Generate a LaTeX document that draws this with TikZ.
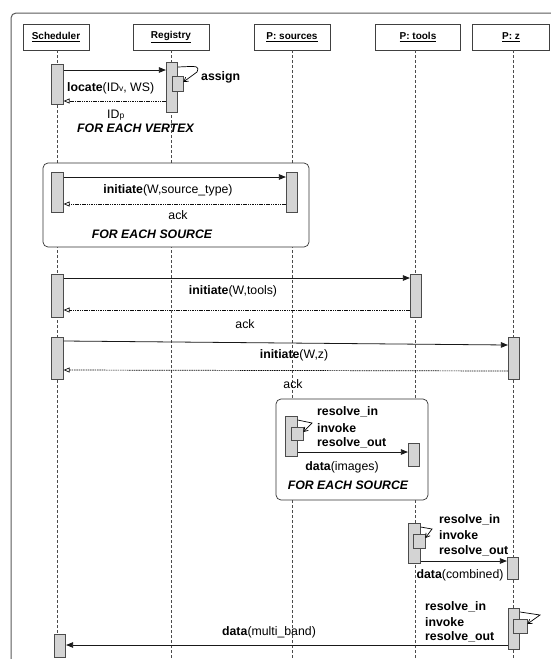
\documentclass[tikz,border=0pt]{standalone}
\usepackage{fontspec}
\setmainfont{Liberation Sans}
\usetikzlibrary{arrows.meta}
\newcommand{\bodyfont}{\fontsize{12.3}{14}\selectfont}
\newcommand{\smallsub}[1]{{\fontsize{8.5}{9}\selectfont #1}}
\begin{document}
\begin{tikzpicture}[x=1pt,y=-1pt,
  hdr/.style={draw=black!75,line width=0.7pt,fill=white,minimum width=#1,minimum height=26pt,inner sep=0pt,font=\fontsize{10}{12}\selectfont\bfseries},
  lifeline/.style={draw=black!70,dashed,dash pattern=on 3pt off 2pt,line width=0.6pt},
  act/.style={draw=black!70,line width=0.7pt,fill=black!17,inner sep=0pt,minimum width=11.5pt,minimum height=#1},
  loopbox/.style={draw=black!80,line width=0.7pt,rounded corners=5pt,fill=white},
  msg/.style={draw=black!90,line width=0.8pt,-{Triangle[length=7pt,width=5.5pt]}},
  ret/.style={draw=black!95,line width=0.7pt,dash pattern=on 1.5pt off 0.8pt,-{Triangle[open,length=6pt,width=5pt]}},
  selfc/.style={draw=black,line width=0.7pt,-{Straight Barb[length=4pt,width=5pt]}},
  lbl/.style={font=\bodyfont,inner sep=0pt},
  lblw/.style={font=\bodyfont,inner sep=0pt,anchor=west},
  loopt/.style={font=\bodyfont\bfseries\itshape,inner sep=0pt}]
\useasboundingbox (0,0) rectangle (551,659);
% frame
\draw[draw=black!65,line width=1pt,rounded corners=5pt] (11,659) -- (11,13) -- (551,13);
% headers
\node[hdr=66pt] (hS) at (56,37) {\underline{Scheduler}};
\node[hdr=76pt] (hR) at (171,37) {\underline{Registry}};
\node[hdr=76pt] (hP) at (292,37) {\underline{P: sources}};
\node[hdr=85pt] (hT) at (418,37) {\underline{P: tools}};
\node[hdr=77pt] (hZ) at (511,37) {\underline{P: z}};
\coordinate (eS) at (57,659);
\coordinate (eR) at (171,659);
\coordinate (eP) at (292,659);
\coordinate (eT) at (415,659);
\coordinate (eZ) at (513,659);
\draw[lifeline] (hS.south -| eS) -- (eS);
\draw[lifeline] (hR.south) -- (eR);
\draw[lifeline] (hP.south) -- (eP);
\draw[lifeline] (hT.south -| eT) -- (eT);
\draw[lifeline] (hZ.south -| eZ) -- (eZ);
% loop boxes
\node[loopbox,minimum width=266pt,minimum height=84pt,inner sep=0pt] (L1) at (176,205) {};
\node[loopbox,minimum width=152pt,minimum height=101pt,inner sep=0pt] (L2) at (352,449.5) {};
% ---- block 1: locate
\node[act=40pt] (S1) at (57.5,84) {};
\node[act=50pt] (R1) at (172,87) {};
\node[act=15pt,minimum width=11pt] (R1n) at (177.5,83.5) {};
\draw[msg] (S1.east |- 0,70) -- (R1.west |- 0,70);
\draw[ret] (R1.west |- 0,101) -- (S1.east |- 0,101);
\coordinate (c1) at (197,72);
\draw[selfc] (R1.east |- 0,67) .. controls (199,66) .. (c1) -- (R1n.east |- 0,82);
\node[lblw,font=\bodyfont\bfseries] (tA) at (201,77) {assign};
\node[lblw] (tL) at (67,88) {\textbf{locate}(ID\smallsub{v}, WS)};
\node[lblw] (tI) at (107,115) {ID\smallsub{p}};
\node[loopt,anchor=west] (tV) at (77,128) {FOR EACH VERTEX};
% ---- block 2: initiate sources
\node[act=40pt] (S2) at (57.5,192) {};
\node[act=40pt] (P1) at (292,192) {};
\draw[msg] (S2.east |- 0,177) -- (P1.west |- 0,177);
\draw[ret] (P1.west |- 0,204) -- (S2.east |- 0,204);
\node[lbl] (t2) at (168,190) {\textbf{initiate}(W,source\_type)};
\node[lbl] (t2a) at (178,215) {ack};
\node[loopt] (t2l) at (152,234) {FOR EACH SOURCE};
% ---- block 3: initiate tools
\node[act=43pt] (S3) at (57.5,295.5) {};
\node[act=43pt] (T1) at (416,295.5) {};
\draw[msg] (S3.east |- 0,278) -- (T1.west |- 0,278);
\draw[ret] (T1.west |- 0,310) -- (S3.east |- 0,310);
\node[lbl] (t3) at (233,291) {\textbf{initiate}(W,tools)};
\node[lbl] (t3a) at (245,324) {ack};
% ---- block 4: initiate z
\node[act=42pt] (S4) at (57.5,358) {};
\node[act=42pt] (Z1) at (514,358) {};
\draw[msg] (S4.east |- 0,341) -- (Z1.west |- 0,345);
\draw[ret] (Z1.west |- 0,371) -- (S4.east |- 0,370);
\node[lbl] (t4) at (294,355) {\textbf{initiate}(W,z)};
\node[lbl] (t4a) at (293,384) {ack};
% ---- block 5: sources -> tools (images)
\node[act=40pt] (P2) at (291.5,436) {};
\node[act=13pt,minimum width=12pt] (P2n) at (297,433.5) {};
\node[act=23pt] (T0) at (414,454.5) {};
\draw[selfc] (P2.east |- 0,420) -- (312,423) -- (P2n.east |- 0,432);
\node[lblw,font=\bodyfont\bfseries] (r1) at (317,412) {resolve\_in};
\node[lblw,font=\bodyfont\bfseries] (r2) at (317,428) {invoke};
\node[lblw,font=\bodyfont\bfseries] (r3) at (317,443) {resolve\_out};
\draw[msg] (P2.east |- 0,452) -- (T0.west |- 0,452);
\node[lbl] (t5) at (342,467) {\textbf{data}(images)};
\node[loopt] (t5l) at (348,485) {FOR EACH SOURCE};
% ---- block 6: tools -> z (combined)
\node[act=40pt] (T2) at (414.5,543) {};
\node[act=14pt,minimum width=12pt] (T2n) at (419,541) {};
\node[act=22pt] (Z2) at (513,568) {};
\draw[selfc] (T2.east |- 0,527) -- (432,529) -- (T2n.east |- 0,538);
\node[lblw,font=\bodyfont\bfseries] (r4) at (439,520) {resolve\_in};
\node[lblw,font=\bodyfont\bfseries] (r5) at (439,535) {invoke};
\node[lblw,font=\bodyfont\bfseries] (r6) at (439,551) {resolve\_out};
\draw[msg] (T2.east |- 0,561) -- (Z2.west |- 0,561);
\node[lbl] (t6) at (460,575) {\textbf{data}(combined)};
% ---- block 7: z -> scheduler (multi_band)
\node[act=41pt] (Z3) at (514,628.5) {};
\node[act=14pt,minimum width=14pt] (Z3n) at (520,626) {};
\node[act=23pt] (S5) at (60,645.5) {};
\draw[selfc] (Z3.east |- 0,612) -- (540,615) -- (Z3n.east |- 0,624);
\node[lblw,font=\bodyfont\bfseries] (r7) at (425,607) {resolve\_in};
\node[lblw,font=\bodyfont\bfseries] (r8) at (425,622) {invoke};
\node[lblw,font=\bodyfont\bfseries] (r9) at (425,637) {resolve\_out};
\draw[msg] (Z3.west |- 0,645) -- (S5.east |- 0,645);
\node[lbl] (t7) at (269,632) {\textbf{data}(multi\_band)};
\end{tikzpicture}
\end{document}
